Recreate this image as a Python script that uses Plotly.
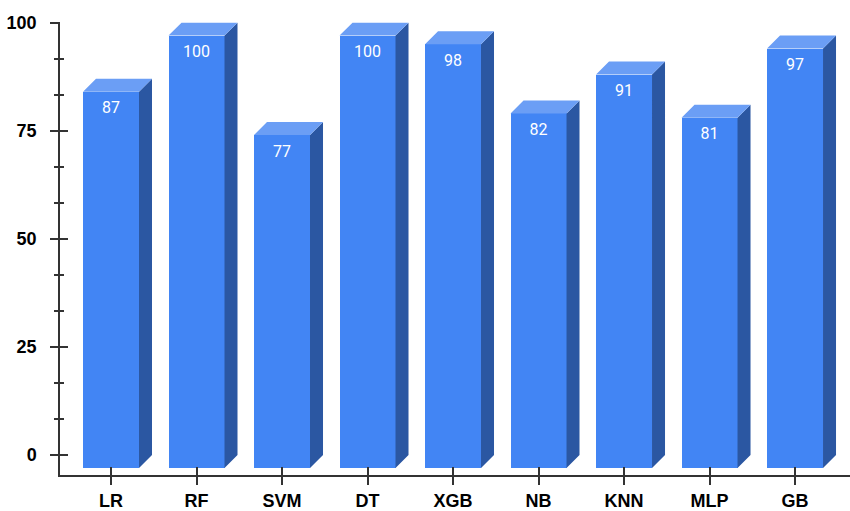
import plotly.graph_objects as go

# Model accuracy scores (%)
models = ["LR", "RF", "SVM", "DT", "XGB", "NB", "KNN", "MLP", "GB"]
accuracy = [87, 100, 77, 100, 98, 82, 91, 81, 97]

y_ticks = [0, 25, 50, 75, 100]

FRONT = "#4285F4"
SIDE = "#2B57A2"
TOP = "#6B9EF5"
AXIS = "#333333"

# Geometry of the pseudo-3D bars, in axis units
X_RANGE = [-0.5965, 8.643]
Y_RANGE = [-4.63, 100.15]
BAR_W = 0.655      # width of the front face
DX = 0.152         # depth offset along x
DY = 3.0           # depth offset along y
LABEL_DROP = 4.05  # label distance below the front face top

pos = list(range(len(models)))

fig = go.Figure()

# Side faces
sx, sy = [], []
for i, v in zip(pos, accuracy):
    r = i + BAR_W / 2
    sx += [r, r + DX, r + DX, r, r, None]
    sy += [-DY, 0, v, v - DY, -DY, None]
fig.add_trace(go.Scatter(x=sx, y=sy, mode="lines", fill="toself",
                         fillcolor=SIDE, line=dict(width=0, color=SIDE),
                         hoverinfo="skip", showlegend=False))

# Top faces
tx, ty = [], []
for i, v in zip(pos, accuracy):
    l, r = i - BAR_W / 2, i + BAR_W / 2
    tx += [l, l + DX, r + DX, r, l, None]
    ty += [v - DY, v, v, v - DY, v - DY, None]
fig.add_trace(go.Scatter(x=tx, y=ty, mode="lines", fill="toself",
                         fillcolor=TOP, line=dict(width=0, color=TOP),
                         hoverinfo="skip", showlegend=False))

# Front faces
fig.add_trace(go.Bar(x=pos, y=accuracy, base=[-DY] * len(pos), width=BAR_W,
                     marker=dict(color=FRONT, line=dict(width=0)),
                     hoverinfo="skip", showlegend=False))

# Value labels
fig.add_trace(go.Scatter(x=pos, y=[v - DY - LABEL_DROP for v in accuracy],
                         mode="text", text=[str(v) for v in accuracy],
                         textposition="middle center",
                         textfont=dict(family="Roboto", size=16, color="white"),
                         hoverinfo="skip", showlegend=False))

# Invisible trace to carry the overlay axes (inner halves of the crossing ticks)
fig.add_trace(go.Scatter(x=[0], y=[0], xaxis="x2", yaxis="y2", mode="markers",
                         marker=dict(opacity=0), hoverinfo="skip", showlegend=False))

tickfont = dict(family="Liberation Sans, Arial", size=18, color="black", weight="bold")

fig.update_layout(
    width=850, height=511,
    margin=dict(l=60, r=0, t=22, b=36),
    paper_bgcolor="white", plot_bgcolor="white",
    bargap=0,
    xaxis=dict(range=X_RANGE, tickvals=pos, ticktext=models, automargin=False,
               showgrid=False, zeroline=False,
               showline=True, linecolor=AXIS, linewidth=1.5,
               ticks="outside", ticklen=8, tickwidth=1.5, tickcolor=AXIS,
               tickfont=tickfont, ticklabelstandoff=1),
    yaxis=dict(range=Y_RANGE, tickvals=y_ticks, automargin=False,
               showgrid=False, zeroline=False,
               showline=True, linecolor=AXIS, linewidth=1.5,
               ticks="outside", ticklen=8, tickwidth=1.5, tickcolor=AXIS,
               minor=dict(ticks="outside", ticklen=4, tickwidth=1.5,
                          tickcolor=AXIS, dtick=25 / 3, tick0=0, showgrid=False),
               tickfont=tickfont, ticklabelstandoff=10),
    xaxis2=dict(range=X_RANGE, overlaying="x", anchor="y2", tickvals=pos, automargin=False,
                showticklabels=False, showgrid=False, zeroline=False, showline=False,
                ticks="inside", ticklen=8, tickwidth=1.5, tickcolor=AXIS),
    yaxis2=dict(range=Y_RANGE, overlaying="y", anchor="x2", side="left", tickvals=y_ticks,
                automargin=False,
                showticklabels=False, showgrid=False, zeroline=False, showline=False,
                ticks="inside", ticklen=8, tickwidth=1.5, tickcolor=AXIS,
                minor=dict(ticks="inside", ticklen=4, tickwidth=1.5,
                           tickcolor=AXIS, dtick=25 / 3, tick0=0, showgrid=False)),
)

fig.write_html("out.html")
